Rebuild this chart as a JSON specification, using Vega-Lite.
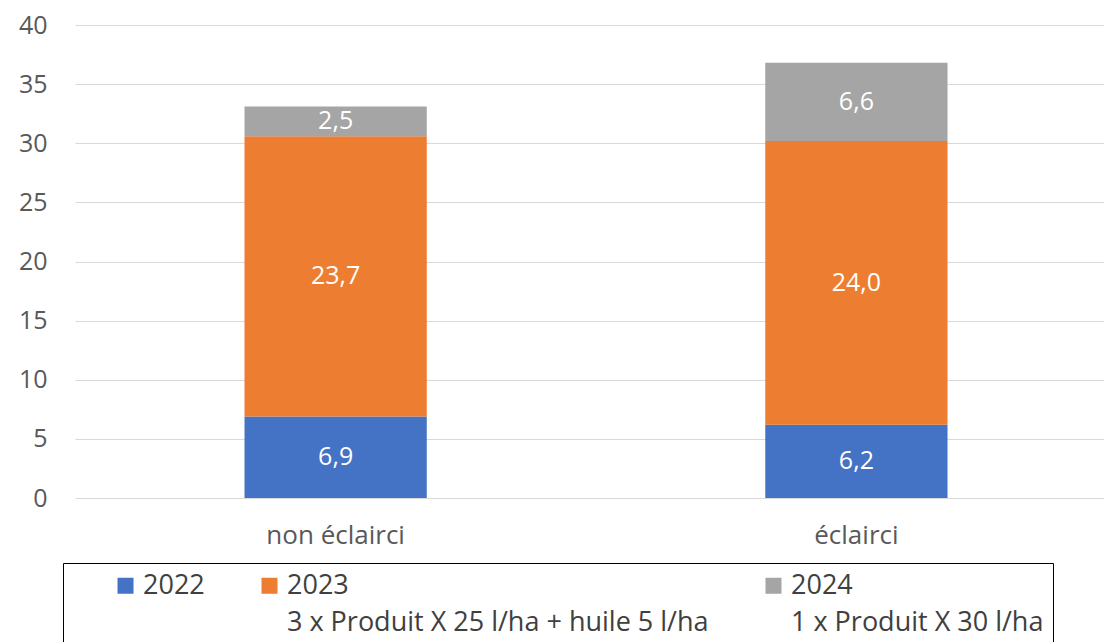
{
  "$schema": "https://vega.github.io/schema/vega-lite/v6.json",
  "autosize": {"type": "none"},
  "width": 1029,
  "height": 473,
  "padding": {"left": 75, "top": 25, "right": 0, "bottom": 144},
  "background": "white",
  "config": {
    "view": {"stroke": null},
    "font": "Open Sans",
    "style": {"guide-label": {"lineHeight": 37, "dy": -13}},
    "locale": {"number": {"decimal": ",", "thousands": " ", "grouping": [3], "currency": ["", " €"]}}
  },
  "data": {
    "values": [
      {"categorie": "non éclairci", "annee": "2022", "valeur": 6.9},
      {"categorie": "non éclairci", "annee": "2023", "valeur": 23.7},
      {"categorie": "non éclairci", "annee": "2024", "valeur": 2.5},
      {"categorie": "éclairci", "annee": "2022", "valeur": 6.2},
      {"categorie": "éclairci", "annee": "2023", "valeur": 24.0},
      {"categorie": "éclairci", "annee": "2024", "valeur": 6.6}
    ]
  },
  "transform": [
    {"stack": "valeur", "groupby": ["categorie"], "sort": [{"field": "annee", "order": "ascending"}], "as": ["v0", "v1"]},
    {"calculate": "(datum.v0 + datum.v1) / 2", "as": "vmid"}
  ],
  "encoding": {
    "x": {
      "field": "categorie",
      "type": "nominal",
      "sort": ["non éclairci", "éclairci"],
      "scale": {"paddingInner": 0.65, "paddingOuter": 0.313, "align": 0.52},
      "axis": {
        "title": null,
        "labelAngle": 0,
        "ticks": false,
        "domain": false,
        "labelFontSize": 26,
        "labelColor": "#595959",
        "labelPadding": 37
      }
    }
  },
  "layer": [
    {
      "mark": {"type": "bar"},
      "encoding": {
        "y": {
          "field": "v1",
          "type": "quantitative",
          "scale": {"domain": [0, 40], "nice": false},
          "axis": {
            "title": null,
            "values": [0, 5, 10, 15, 20, 25, 30, 35, 40],
            "ticks": false,
            "domain": false,
            "gridColor": "#d9d9d9",
            "gridWidth": 1,
            "labelFontSize": 25,
            "labelColor": "#595959",
            "labelPadding": 28,
            "labelOffset": 13
          }
        },
        "y2": {"field": "v0"},
        "color": {
          "field": "annee",
          "type": "nominal",
          "scale": {"domain": ["2022", "2023", "2024"], "range": ["#4472C4", "#ED7D31", "#A5A5A5"]},
          "legend": {
            "title": null,
            "orient": "none",
            "legendX": -12,
            "legendY": 538,
            "direction": "horizontal",
            "columns": 3,
            "columnPadding": 11,
            "gridAlign": "each",
            "symbolType": "square",
            "symbolSize": 256,
            "symbolStrokeWidth": 0,
            "labelFontSize": 27,
            "labelColor": "#404040",
            "labelOffset": 4,
            "labelLimit": 0,
            "labelBaseline": "top",
            "labelExpr": "datum.label == '2023' ? ['2023', '3 x Produit X 25 l/ha + huile 5 l/ha'] : datum.label == '2024' ? ['2024', '1 x Produit X 30 l/ha           '] : [datum.label, '']",
            "strokeColor": "#000000",
            "padding": 9,
            "symbolOffset": 40
          }
        }
      }
    },
    {
      "mark": {"type": "text", "color": "white", "fontSize": 25, "baseline": "middle", "align": "center"},
      "encoding": {
        "y": {"field": "vmid", "type": "quantitative"},
        "text": {"field": "valeur", "type": "quantitative", "format": ".1f"}
      }
    }
  ]
}
